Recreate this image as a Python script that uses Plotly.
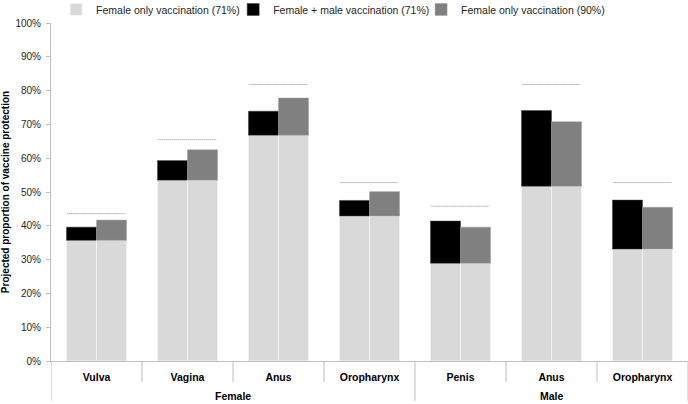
import plotly.graph_objects as go

groups = ["Female", "Female", "Female", "Female", "Male", "Male", "Male"]
sites = ["Vulva", "Vagina", "Anus", "Oropharynx", "Penis", "Anus", "Oropharynx"]

# Projected proportion of vaccine protection (%)
female_only_71 = [35.7, 53.5, 66.8, 42.9, 28.9, 51.7, 33.1]
female_male_71_total = [39.6, 59.3, 73.9, 47.5, 41.4, 74.1, 47.6]
female_only_90_total = [41.7, 62.5, 77.8, 50.1, 39.6, 70.8, 45.5]
maximum_protection = [43.6, 65.5, 81.8, 52.8, 45.8, 81.8, 52.8]

female_male_inc = [t - b for t, b in zip(female_male_71_total, female_only_71)]
female_90_inc = [t - b for t, b in zip(female_only_90_total, female_only_71)]

xs = list(range(len(sites)))
LIGHT = "#d9d9d9"
BLACK = "#000000"
GRAY = "#808080"
AXIS = "#bfbfbf"
FONT = "Liberation Sans, Arial, sans-serif"

fig = go.Figure()
fig.add_trace(go.Bar(x=xs, y=female_only_71, name="Female only vaccination (71%)",
                     marker=dict(color=LIGHT, line=dict(color="#f2f2f2", width=1)),
                     offsetgroup="a", legend="legend"))
fig.add_trace(go.Bar(x=xs, y=female_male_inc, base=female_only_71,
                     name="Female + male vaccination (71%)",
                     marker=dict(color=BLACK, line=dict(color="#404040", width=0.5)),
                     offsetgroup="a", legend="legend2"))
fig.add_trace(go.Bar(x=xs, y=female_only_71, name="Female only vaccination (71%)",
                     marker=dict(color=LIGHT, line=dict(color="#f2f2f2", width=1)),
                     offsetgroup="b", showlegend=False))
fig.add_trace(go.Bar(x=xs, y=female_90_inc, base=female_only_71,
                     name="Female only vaccination (90%)",
                     marker=dict(color=GRAY, line=dict(color="#a0a0a0", width=0.5)),
                     offsetgroup="b", legend="legend3"))

# dotted maximum-protection lines over each category
half = 0.32
for i, v in zip(xs, maximum_protection):
    fig.add_shape(type="line", xref="x", yref="y", x0=i - half, x1=i + half,
                  y0=v, y1=v, line=dict(color="#8c8c8c", width=1, dash="1px,1px"))

# category separators (short) and group dividers (long) below the axis
SHORT = -0.062
LONG = -0.118
for b in range(len(sites) + 1):
    is_group_edge = (b == 0 or b == len(sites) or groups[b] != groups[b - 1])
    fig.add_shape(type="line", xref="x", yref="paper", x0=b - 0.5, x1=b - 0.5,
                  y0=0, y1=LONG if is_group_edge else SHORT,
                  line=dict(color=AXIS, width=1))

# group labels
for g in dict.fromkeys(groups):
    idx = [i for i, gg in zip(xs, groups) if gg == g]
    fig.add_annotation(x=sum(idx) / len(idx), y=-0.103, xref="x", yref="paper",
                       text=f"<b>{g}</b>", showarrow=False, yanchor="middle",
                       font=dict(size=10.5, color="#000000"))

legend_style = dict(orientation="h", y=1.04, xanchor="left", yanchor="middle",
                    font=dict(size=10.5, color="#262626"), itemwidth=30,
                    bgcolor="rgba(0,0,0,0)")

fig.update_layout(
    width=688, height=404,
    margin=dict(l=51, r=0, t=22.5, b=43, autoexpand=False),
    barmode="group", bargap=0.34, bargroupgap=0,
    plot_bgcolor="white", paper_bgcolor="white",
    font=dict(family=FONT, size=10, color="#262626"),
    legend=dict(x=0.008, **legend_style),
    legend2=dict(x=0.286, **legend_style),
    legend3=dict(x=0.581, **legend_style),
)
fig.update_yaxes(range=[0, 100], tickvals=list(range(0, 101, 10)),
                 ticktext=[f"{v}%" for v in range(0, 101, 10)],
                 showgrid=False, zeroline=False, showline=True, automargin=False,
                 linecolor=AXIS, linewidth=1, ticks="outside",
                 tickcolor=AXIS, ticklen=4, ticklabelstandoff=3,
                 tickfont=dict(size=10, color="#262626"),
                 title=dict(text="<b>Projected proportion of vaccine protection</b>",
                            font=dict(size=10, color="#000000"), standoff=6))
fig.update_xaxes(range=[-0.5, len(sites) - 0.5], tickvals=xs, ticktext=sites,
                 showgrid=False, zeroline=False, showline=True, automargin=False,
                 linecolor=AXIS, linewidth=1, ticks="",
                 ticklabelstandoff=6,
                 tickfont=dict(size=10.5, color="#000000", weight="bold"))

fig.write_html("out.html", config={"displayModeBar": False},
               post_script="document.body.style.margin='0px';document.body.style.overflow='hidden';")
